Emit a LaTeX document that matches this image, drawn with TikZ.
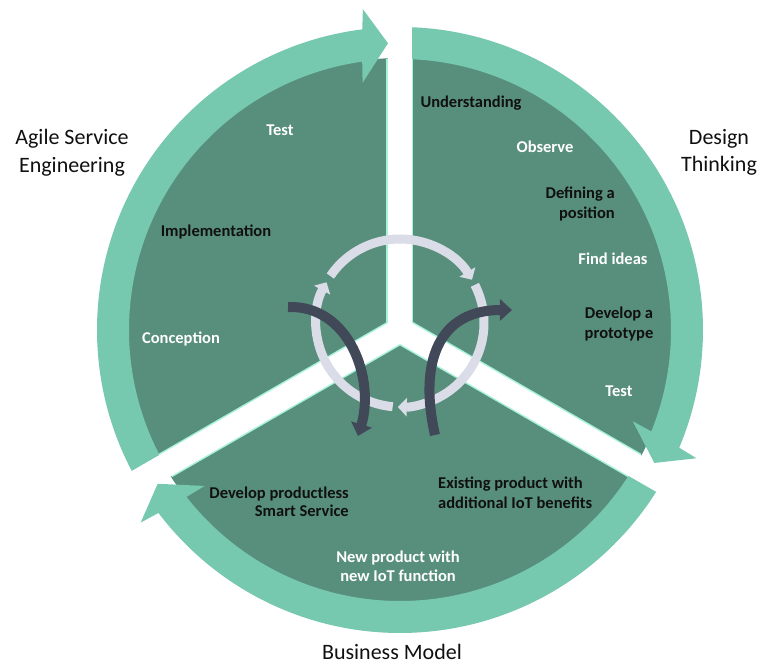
\documentclass[tikz,border=0pt]{standalone}
\usepackage{fontspec}
\setmainfont{Carlito}
\usetikzlibrary{arrows.meta}
\definecolor{ringc}{HTML}{76C8AE}
\definecolor{sectc}{HTML}{588F7C}
\definecolor{edgec}{HTML}{A6F2DA}
\definecolor{cyc}{HTML}{DADDE7}
\definecolor{darkarr}{HTML}{414857}
\definecolor{txtc}{HTML}{101010}
\tikzset{
  lbl/.style={font=\bfseries\fontsize{16.5}{20.5}\selectfont, inner sep=0pt, align=center},
  blk/.style={lbl, text=txtc},
  wht/.style={lbl, text=white},
  big/.style={font=\fontsize{22}{27}\selectfont, text=txtc, align=center, inner sep=0pt},
  cycarrow/.style={cyc, line width=9pt, -{Triangle[width=18pt,length=9pt]}},
  darrow/.style={darkarr, line width=10pt, -{Triangle[width=21pt,length=12pt]}}
}
\begin{document}
\begin{tikzpicture}[x=1pt,y=1pt]
\useasboundingbox (-400,-336) rectangle (361,330);
% dark sectors
\fill[sectc] (0,0) circle[radius=272pt];
% ring arrows
\foreach \s/\t in {210/92.4, 90/-27.6, -30/-147.6}{
  \pgfmathsetmacro\ho{\t+4.2}
  \pgfmathsetmacro\hi{\t+6.2}
  \pgfmathsetmacro\bo{\t+4.75}
  \pgfmathsetmacro\bi{\t+5.62}
  \fill[ringc] (\s:303pt) arc[start angle=\s, end angle=\bo, radius=303pt]
     -- (\ho:323pt) -- (\t:287pt) -- (\hi:250pt) -- (\bi:271pt)
     arc[start angle=\bi, end angle=\s, radius=271pt] -- cycle;
}
% white gaps with light edges
\foreach \a in {90,210,330}{
  \draw[edgec, line width=27pt] (0,0) -- (\a:271pt);
}
\foreach \a in {90,210,330}{
  \draw[white, line width=24pt] (0,0) -- (\a:340pt);
}
% inner cycle
\draw[cycarrow] (0,7) ++(146:84pt) arc[start angle=146, end angle=31, radius=84pt];
\draw[cycarrow] (0,7) ++(27:84pt) arc[start angle=27, end angle=-91.5, radius=84pt];
\draw[cycarrow] (0,7) ++(-95:84pt) arc[start angle=-95, end angle=-209, radius=84pt];
% dark arrows
\coordinate (la) at (-112,23);
\coordinate (lb) at (-42,-106);
\coordinate (ra) at (35,-105);
\coordinate (rb) at (112,20);
\draw[darrow] (la) .. controls (-50,25) and (-25,-50) .. (lb);
\draw[darrow] (ra) .. controls (18,-30) and (40,20) .. (rb);
% Design Thinking labels
\node[blk] (und) at (71,227) {Understanding};
\node[wht] (obs) at (145,183) {Observe};
\node[blk, anchor=east, align=right] (def) at (215,126) {Defining a\\position};
\node[wht] (fid) at (213,71) {Find ideas};
\node[blk] (dev) at (219,6) {Develop a\\prototype};
\node[wht] (tst) at (219,-61) {Test};
% Agile labels
\node[wht] (tst2) at (-120,200) {Test};
\node[blk] (imp) at (-184,98) {Implementation};
\node[wht] (con) at (-219,-9) {Conception};
% Business model labels
\node[blk, anchor=east, align=right, font=\bfseries\fontsize{16.5}{18.5}\selectfont] (dps) at (-51,-172) {Develop productless\\Smart Service};
\node[blk, anchor=west, align=left, font=\bfseries\fontsize{16.5}{20}\selectfont] (ex) at (38,-163) {Existing product with\\additional IoT benefits};
\node[wht, font=\bfseries\fontsize{16.5}{19}\selectfont] (np) at (-2,-236) {New product with\\new IoT function};
% outer titles
\node[big, font=\fontsize{22}{28}\selectfont] (ase) at (-328,177) {Agile Service\\Engineering};
\node[big, font=\fontsize{22}{27}\selectfont] (dt) at (319,178) {Design\\Thinking};
\node[big] (bm) at (-8,-322) {Business Model};
\end{tikzpicture}
\end{document}
